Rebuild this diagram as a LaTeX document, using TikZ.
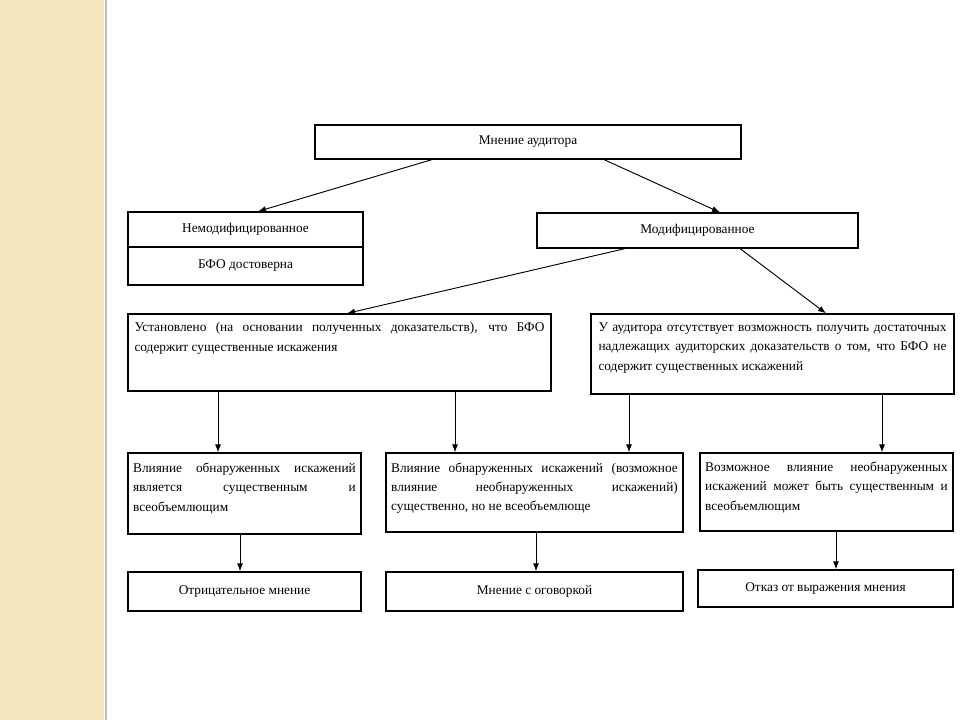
\documentclass[tikz,border=0pt]{standalone}
\usepackage{fontspec}
\setmainfont{Liberation Serif}
\usetikzlibrary{arrows.meta}

\definecolor{stripbeige}{RGB}{244,230,190}
\definecolor{stripedge}{RGB}{200,192,172}

% text block, top aligned inside a box
\newcommand\blocktext[3]{\parbox[c][#2][t]{#1}{\fontsize{10}{14.5}\selectfont #3}}

\tikzset{
	box/.style={draw,line width=0.9pt,inner sep=0pt,align=center,font=\fontsize{10}{12}\selectfont},
	arr/.style={-{Latex[length=6pt,width=4.5pt]},line width=0.7pt},
}

\begin{document}
\begin{tikzpicture}[x=0.75pt,y=-0.75pt]

	\useasboundingbox (0,0) rectangle (960,720);
	\fill[white] (0,0) rectangle (960,720);

	% left strip
	\fill[stripbeige] (0,0) rectangle (104,720);
	\draw[stripedge,line width=1.5pt] (105.5,0) -- (105.5,720);

	% top level
	\node[box,minimum width=319.5pt,minimum height=25.5pt] (top) at (528,142) {Мнение аудитора};

	% second level
	\node[box,minimum width=176.25pt,minimum height=26.25pt] (nemod) at (245.5,229.5) {Немодифицированное};
	\node[box,minimum width=176.25pt,minimum height=28.5pt] (bfo) at (245.5,266) {БФО достоверна};
	\node[box,minimum width=240.75pt,minimum height=26.25pt] (mod) at (697.5,230.5) {Модифицированное};

	% third level
	\node[box,minimum width=317.25pt,minimum height=57.75pt] (found) at (339.5,352.5)
		{\blocktext{307.5pt}{45pt}{Установлено (на основании полученных доказательств), что БФО\linebreak содержит существенные искажения}};
	\node[box,minimum width=272.25pt,minimum height=60pt] (noev) at (772.5,354)
		{\blocktext{261pt}{47pt}{У аудитора отсутствует возможность получить достаточных\linebreak надлежащих аудиторских доказательств о том, что БФО не\linebreak содержит существенных искажений}};

	% fourth level
	\node[box,minimum width=174.75pt,minimum height=60.75pt] (pervasive) at (244.5,493.5)
		{\blocktext{167pt}{46pt}{Влияние обнаруженных искажений\linebreak является существенным и\linebreak всеобъемлющим}};
	\node[box,minimum width=222.75pt,minimum height=59.25pt] (material) at (534.5,492.5)
		{\blocktext{215pt}{45pt}{Влияние обнаруженных искажений (возможное\linebreak влияние необнаруженных искажений)\linebreak существенно, но не всеобъемлюще}};
	\node[box,minimum width=189.75pt,minimum height=58.5pt] (possible) at (826.5,492)
		{\blocktext{182pt}{45pt}{Возможное влияние необнаруженных\linebreak искажений может быть существенным и\linebreak всеобъемлющим}};

	% opinions
	\node[box,minimum width=174.75pt,minimum height=29.25pt] (adverse) at (244.5,591.5) {Отрицательное мнение};
	\node[box,minimum width=222.75pt,minimum height=29.25pt] (qualified) at (534.5,591.5) {Мнение с оговоркой};
	\node[box,minimum width=191.25pt,minimum height=27.75pt] (disclaimer) at (825.5,588.5) {Отказ от выражения мнения};

	% connectors
	\foreach \a/\sa/\b/\sb in {top/-96/nemod/12.5, top/76/mod/22.5,
		mod/-72.5/found/7.5, mod/42.5/noev/53.5,
		found/-121.5/pervasive/-26.5, found/115.5/material/-79.5,
		noev/-143.5/material/94.5, noev/109.5/possible/55.5,
		pervasive/-4.5/adverse/-4.5, material/1.5/qualified/1.5,
		possible/9.5/disclaimer/10.5}
		\draw[arr] ([shift={(\sa,0)}]\a.south) -- ([shift={(\sb,0)}]\b.north);

\end{tikzpicture}
\end{document}
